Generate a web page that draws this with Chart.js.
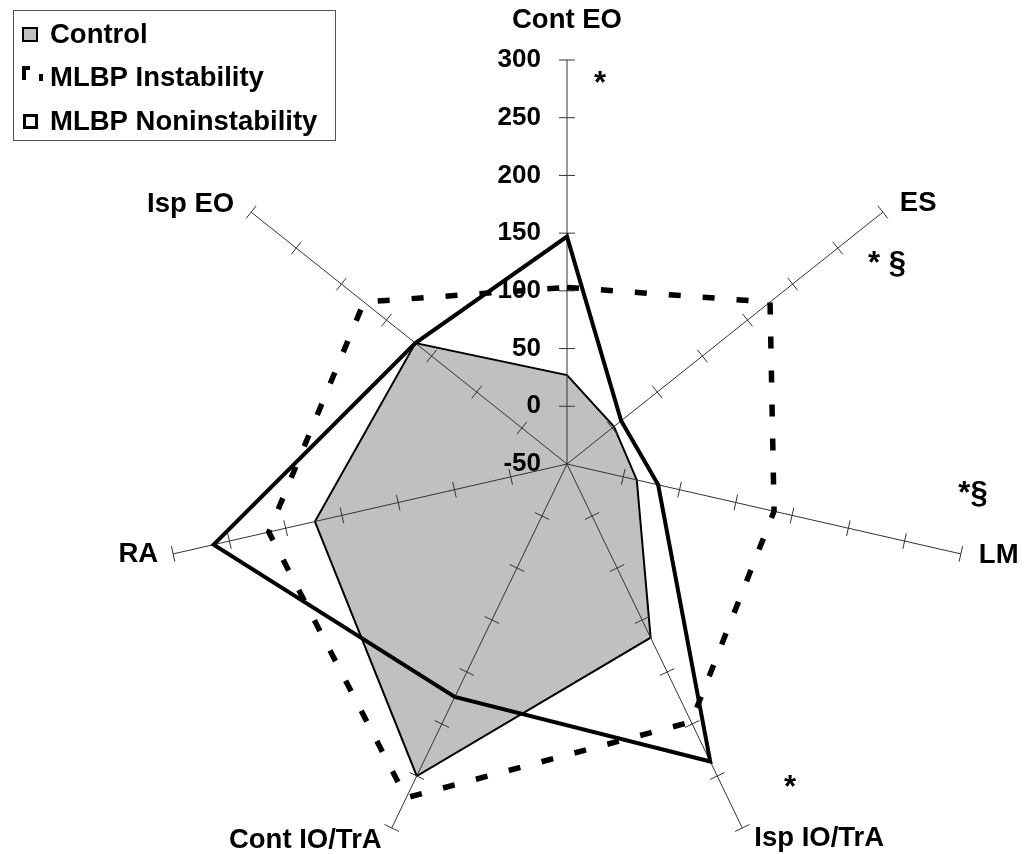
<!DOCTYPE html>
<html>
<head>
<meta charset="utf-8">
<title>Trunk muscle activity</title>
<script src="https://cdn.jsdelivr.net/npm/chart.js@4.4.0/dist/chart.umd.min.js"></script>
<style>
  html, body { margin: 0; padding: 0; background: #fff; overflow: hidden; }
  canvas { display: block; }
</style>
</head>
<body>
<canvas id="radarChart" width="1031" height="854"></canvas>
<script>
const muscles = ['Cont EO', 'ES', 'LM', 'Isp IO/TrA', 'Cont IO/TrA', 'RA', 'Isp EO'];
const control = [27, 2, 12, 117, 250, 174, 118];
const instability = [103, 175, 134, 198, 271, 215, 175];
const noninstability = [147, 10, 31, 236, 174, 264, 118];
const tickValues = [-50, 0, 50, 100, 150, 200, 250, 300];
const seriesNames = ['Control', 'MLBP Instability', 'MLBP Noninstability'];
const marks = ['*', '* §', '*§', '*'];

const FONT = '"Liberation Sans", Arial, sans-serif';

// label offset from the end of each axis: dx, dy, alignment
const labelPlace = [
    [0, -40, 'center'],
    [17, -9, 'left'],
    [18, 2, 'left'],
    [12, 10, 'left'],
    [-10, 12, 'right'],
    [-15, 1, 'right'],
    [-17, -8, 'right']
];
// significance marks, offset from the centre of the plot
const markPlace = [[33, -371], [320, -191], [406, 39], [223, 333]];

const radarDecor = {
    id: 'radarDecor',
    // axes go over the grey area but under the two lines
    afterDatasetDraw(chart, args) {
        if (args.index !== 0) return;
        const r = chart.scales.r;
        const ctx = chart.ctx;
        ctx.save();
        ctx.strokeStyle = '#333';
        ctx.lineWidth = 1;
        muscles.forEach((m, i) => {
            const end = r.getPointPositionForValue(i, 300);
            ctx.beginPath();
            ctx.moveTo(r.xCenter, r.yCenter);
            ctx.lineTo(end.x, end.y);
            ctx.stroke();
            const a = r.getIndexAngle(i) - Math.PI / 2;
            const nx = -Math.sin(a), ny = Math.cos(a);
            tickValues.slice(1).forEach(v => {
                const p = r.getPointPositionForValue(i, v);
                ctx.beginPath();
                ctx.moveTo(p.x - nx * 8, p.y - ny * 8);
                ctx.lineTo(p.x + nx * 8, p.y + ny * 8);
                ctx.stroke();
            });
        });

        // value labels along the Cont EO axis
        ctx.fillStyle = '#000';
        ctx.font = 'bold 26px ' + FONT;
        ctx.textAlign = 'right';
        ctx.textBaseline = 'middle';
        tickValues.forEach(v => {
            const p = r.getPointPositionForValue(0, v);
            ctx.fillText(String(v), p.x - 26, p.y);
        });
        ctx.restore();
    },
    afterDraw(chart) {
        const r = chart.scales.r;
        const ctx = chart.ctx;
        ctx.save();
        ctx.fillStyle = '#000';
        ctx.font = 'bold 27.5px ' + FONT;
        ctx.textBaseline = 'middle';

        // axis names
        muscles.forEach((m, i) => {
            const end = r.getPointPositionForValue(i, 300);
            const [dx, dy, align] = labelPlace[i];
            ctx.textAlign = align;
            ctx.fillText(m, end.x + dx, end.y + dy);
        });

        // significance marks
        ctx.font = 'bold 31px ' + FONT;
        ctx.textAlign = 'center';
        ctx.textBaseline = 'alphabetic';
        marks.forEach((t, i) => {
            ctx.fillText(t, r.xCenter + markPlace[i][0], r.yCenter + markPlace[i][1]);
        });

        // legend
        ctx.font = 'bold 27.5px ' + FONT;
        ctx.strokeStyle = '#555';
        ctx.lineWidth = 1;
        ctx.strokeRect(13.5, 10.5, 322, 130);

        ctx.fillStyle = '#c0c0c0';
        ctx.fillRect(23, 28, 14, 13);
        ctx.strokeStyle = '#000';
        ctx.lineWidth = 2;
        ctx.strokeRect(23, 28, 14, 13);

        ctx.fillStyle = '#000';
        ctx.fillRect(22, 66, 4, 14);
        ctx.fillRect(22, 66, 8, 4);
        ctx.fillRect(39, 74, 4, 7);

        ctx.lineWidth = 3;
        ctx.strokeRect(24.5, 115.5, 12, 12);

        ctx.textAlign = 'left';
        ctx.textBaseline = 'middle';
        ctx.fillText(seriesNames[0], 50, 35);
        ctx.fillText(seriesNames[1], 50, 78);
        ctx.fillText(seriesNames[2], 50, 122);
        ctx.restore();
    }
};

const ctx = document.getElementById('radarChart').getContext('2d');

new Chart(ctx, {
    type: 'radar',
    data: {
        labels: muscles,
        datasets: [
            {
                label: seriesNames[0],
                data: control,
                fill: 'start',
                backgroundColor: '#c0c0c0',
                borderColor: '#000',
                borderWidth: 2,
                pointRadius: 0,
                order: 3
            },
            {
                label: seriesNames[1],
                data: instability,
                fill: false,
                borderColor: '#000',
                borderWidth: 5.5,
                borderDash: [12, 22],
                borderCapStyle: 'butt',
                pointRadius: 0,
                order: 2
            },
            {
                label: seriesNames[2],
                data: noninstability,
                fill: false,
                borderColor: '#000',
                borderWidth: 4,
                borderJoinStyle: 'miter',
                pointRadius: 0,
                order: 1
            }
        ]
    },
    options: {
        responsive: false,
        animation: false,
        elements: { line: { tension: 0 } },
        plugins: {
            legend: { display: false },
            tooltip: { enabled: false }
        },
        scales: {
            r: {
                min: -50,
                max: 300,
                ticks: { stepSize: 50, display: false },
                grid: { display: false },
                angleLines: { display: false },
                pointLabels: { display: false },
                // put the plot where the original sits
                afterFit: (scale) => {
                    scale.xCenter = 567;
                    scale.yCenter = 464;
                    scale.drawingArea = 404;
                }
            }
        }
    },
    plugins: [radarDecor]
});
</script>
</body>
</html>
